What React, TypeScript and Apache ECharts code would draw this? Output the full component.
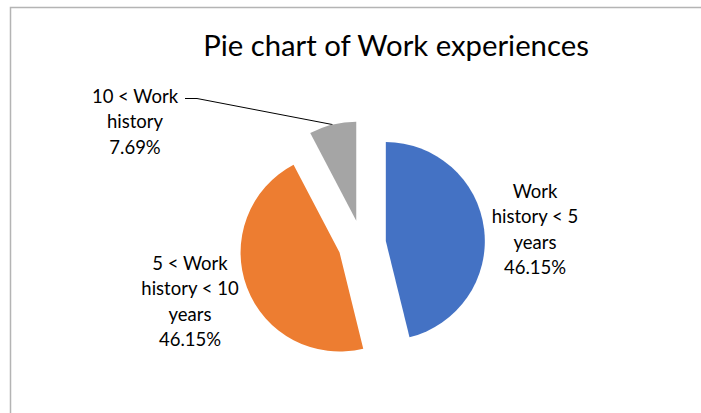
import React, { useEffect, useRef } from "react";
import * as echarts from "echarts";

const categories = ["Work history < 5 years", "5 < Work history < 10 years", "10 < Work history"];
const labelLines = [
  ["Work", "history < 5", "years"],
  ["5 < Work", "history < 10", "years"],
  ["10 < Work", "history"],
];
const values = [6, 6, 1];
const colors = ["#4472C4", "#ED7D31", "#A5A5A5"];
const titleText = "Pie chart of Work experiences";

export default function App() {
  const ref = useRef<HTMLDivElement>(null);
  useEffect(() => {
    if (!ref.current) return;
    const chart = echarts.init(ref.current, null, { renderer: "svg" });
    const cx = 362;
    const cy = 244;
    const r = 99;
    const explode = 24;
    const total = values.reduce((a, b) => a + b, 0);
    const labelPos = [
      [535, 229],
      [190, 301],
      [135, 121],
    ];
    const anchors: number[][] = [];
    let cum = 0;
    const series = values.map((v, i) => {
      const mid = ((cum + v / 2) / total) * Math.PI * 2;
      cum += v;
      const c = [cx + explode * Math.sin(mid), cy - explode * Math.cos(mid)];
      anchors.push([c[0] + r * Math.sin(mid), c[1] - r * Math.cos(mid)]);
      return {
        type: "pie",
        center: c,
        radius: r,
        startAngle: 90,
        clockwise: true,
        emphasis: { disabled: true },
        silent: true,
        data: categories.map((name, j) => ({
          name,
          value: values[j],
          itemStyle: { color: j === i ? colors[j] : "rgba(0,0,0,0)" },
          label: { show: j === i },
          labelLine: { show: j === i && j === 2, lineStyle: { color: "#000", width: 1 } },
        })),
        label: {
          position: "outside",
          fontFamily: "Lato",
          fontSize: 18.5,
          lineHeight: 25.5,
          color: "#000",
          align: "center",
          formatter: (p: any) =>
            [...labelLines[p.dataIndex], ((values[p.dataIndex] / total) * 100).toFixed(2) + "%"].join("\n"),
        },
        labelLine: { length: 10, length2: 10, smooth: false },
        labelLayout: (p: any) => {
          const k = p.dataIndex;
          const out: any = {
            x: labelPos[k][0],
            y: labelPos[k][1],
            align: "center",
            verticalAlign: "middle",
          };
          if (k === 2) {
            const top = labelPos[k][1] - 25.5;
            out.labelLinePoints = [anchors[k], [197, top + 3], [185, top + 3]];
          }
          return out;
        },
      };
    });
    chart.setOption({
      animation: false,
      backgroundColor: "#ffffff",
      title: {
        text: titleText,
        left: 391,
        top: 25,
        textAlign: "center",
        textStyle: { fontFamily: "Lato", fontSize: 29.3, fontWeight: "normal", color: "#000" },
      },
      graphic: [
        {
          type: "rect",
          shape: { x: 10.5, y: 7.5, width: 900, height: 600 },
          style: { fill: "none", stroke: "#B4B4B4", lineWidth: 1.5 },
          silent: true,
        },
      ],
      series,
    });
    return () => chart.dispose();
  }, []);
  return <div ref={ref} style={{ position: "fixed", left: 0, top: 0, width: 701, height: 413 }} />;
}
